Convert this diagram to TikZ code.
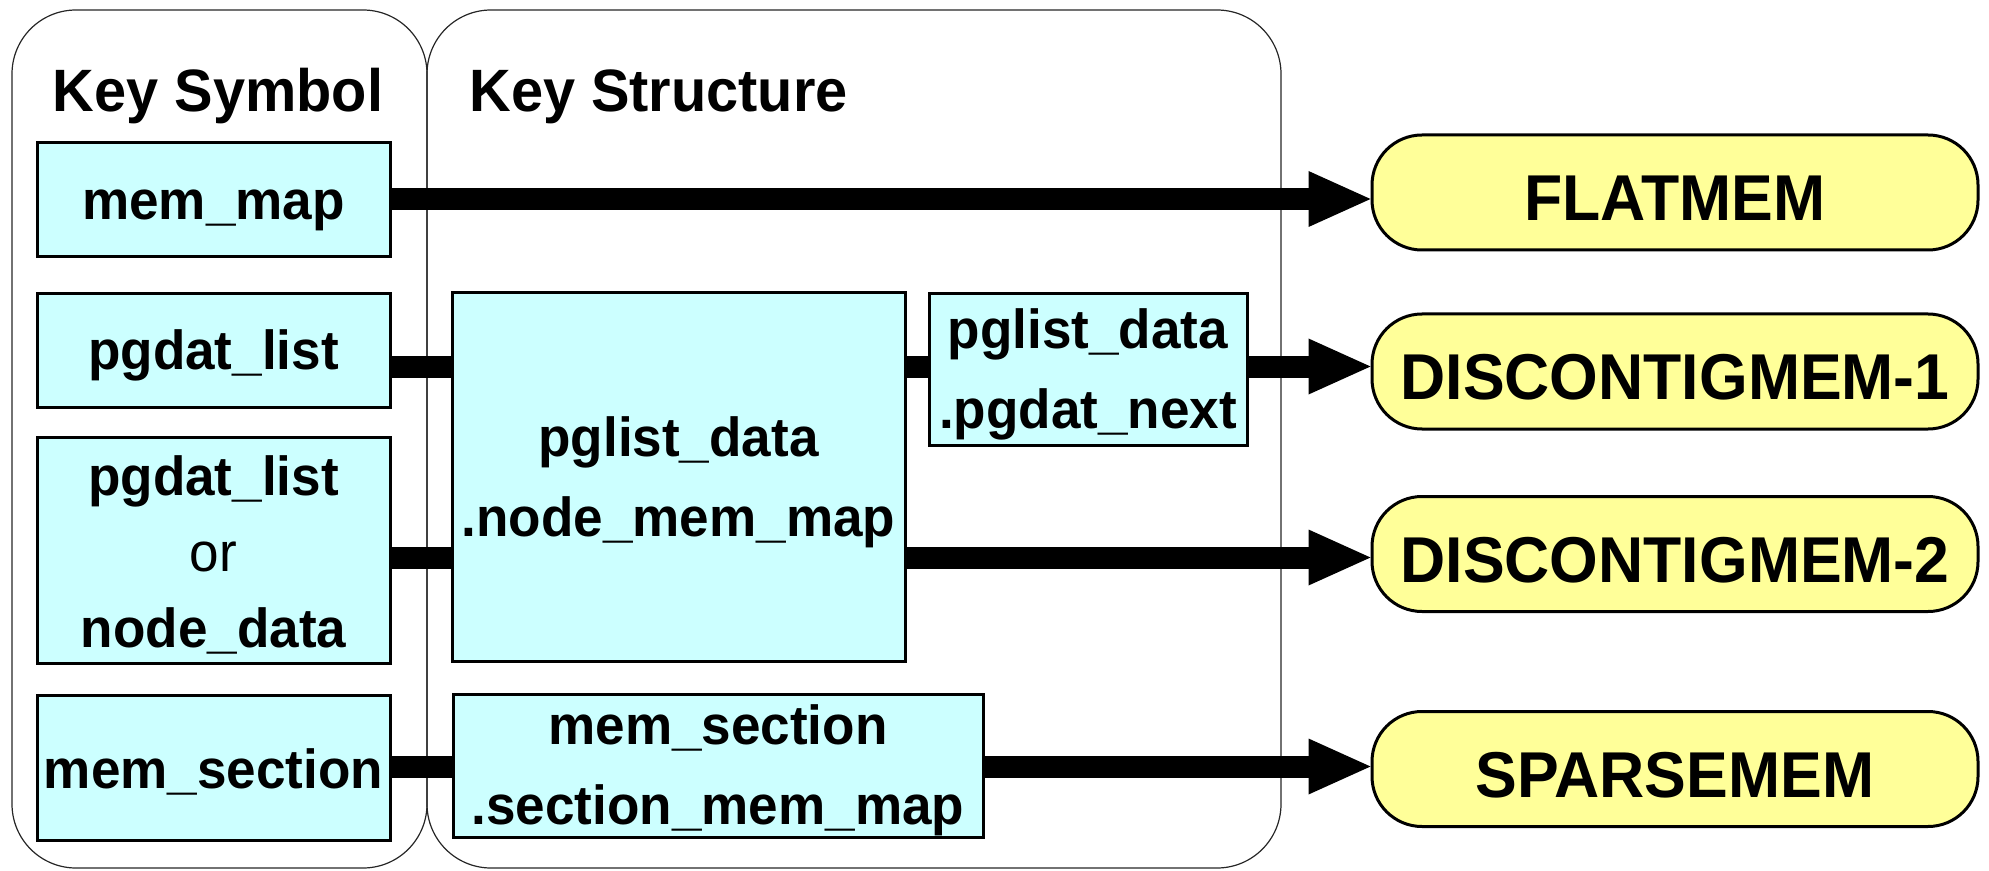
\documentclass[tikz,border=0pt]{standalone}
\usepackage{fontspec}
\setmainfont{Liberation Sans}[FakeStretch=0.965]
\usetikzlibrary{arrows.meta}
\definecolor{keycyan}{HTML}{CCFFFF}
\definecolor{capyellow}{HTML}{FFFF99}
% struts that fix the vertical placement of the box labels
\newcommand\bxs{\rule[-4pt]{0pt}{29pt}}
\newcommand\cps{\rule[-3pt]{0pt}{34pt}}

\begin{document}
\begin{tikzpicture}[x=0.5pt,y=-0.5pt,
  panel/.style={draw=black!85, line width=0.6pt, rounded corners=32pt, inner sep=0pt},
  keybox/.style={draw=black, line width=1.5pt, fill=keycyan, inner sep=0pt, align=center,
    font=\fontsize{27.5pt}{40pt}\selectfont\bfseries},
  capsule/.style={draw=black, line width=1.5pt, fill=capyellow, rounded corners=25pt,
    inner sep=0pt, minimum width=303pt, minimum height=57.5pt,
    font=\fontsize{32.4pt}{38pt}\selectfont\bfseries},
  heading/.style={anchor=base, inner sep=0pt, font=\fontsize{29.9pt}{35pt}\selectfont\bfseries},
  link/.style={line width=11pt},
  feed/.style={line width=11pt, -{Triangle[length=31pt,width=28pt,line width=0pt]}}]

\useasboundingbox (0,0) rectangle (1989,871);

% the two column frames
\node[panel, minimum width=207.5pt, minimum height=429pt] (symcol) at (219.5,439) {};
\node[panel, minimum width=427pt, minimum height=429pt] (structcol) at (854,439) {};

\node[heading] (symhead) at (218,112) {Key Symbol};
\node[heading, anchor=base west] (structhead) at (469,112) {Key Structure};

% key symbols
\node[keybox, minimum width=176.5pt, minimum height=57pt] (mm) at (213.5,200) {\bxs mem\_map};
\node[keybox, minimum width=176.5pt, minimum height=56.5pt] (pl) at (213.5,350.5) {\bxs pgdat\_list};
\node[keybox, minimum width=176.5pt, minimum height=113pt] (pn) at (213.5,550)
  {\bxs pgdat\_list\\[-2pt]\bxs{\mdseries or}\\[-2pt]\bxs node\_data};
\node[keybox, minimum width=176.5pt, minimum height=72.5pt] (ms) at (213.5,767.5) {\bxs mem\_section};

% key structures
\node[keybox, minimum width=226.5pt, minimum height=184pt] (nm) at (678.5,477)
  {\bxs pglist\_data\\\bxs .node\_mem\_map};
\node[keybox, minimum width=159pt, minimum height=76pt] (nx) at (1088,369.5)
  {\bxs pglist\_data\\\bxs .pgdat\_next};
\node[keybox, minimum width=265pt, minimum height=71.5pt] (sm) at (718,765.5)
  {\bxs mem\_section\\\bxs .section\_mem\_map};

% memory models
\node[capsule] (flat) at (1675,192.5) {\cps FLATMEM};
\node[capsule] (dc1) at (1675,371.5) {\cps DISCONTIGMEM-1};
\node[capsule] (dc2) at (1675,554) {\cps DISCONTIGMEM-2};
\node[capsule] (sparse) at (1675,769) {\cps SPARSEMEM};

% connector rows
\coordinate (r1) at (0,199);
\coordinate (r2) at (0,366.5);
\coordinate (r3) at (0,557.5);
\coordinate (r4) at (0,766.5);

\draw[feed] (mm.east |- r1) -- (flat.west |- r1);
\draw[link] (pl.east |- r2) -- (nm.west |- r2);
\draw[link] (nm.east |- r2) -- (nx.west |- r2);
\draw[feed] (nx.east |- r2) -- (dc1.west |- r2);
\draw[link] (pn.east |- r3) -- (nm.west |- r3);
\draw[feed] (nm.east |- r3) -- (dc2.west |- r3);
\draw[link] (ms.east |- r4) -- (sm.west |- r4);
\draw[feed] (sm.east |- r4) -- (sparse.west |- r4);
\end{tikzpicture}
\end{document}
